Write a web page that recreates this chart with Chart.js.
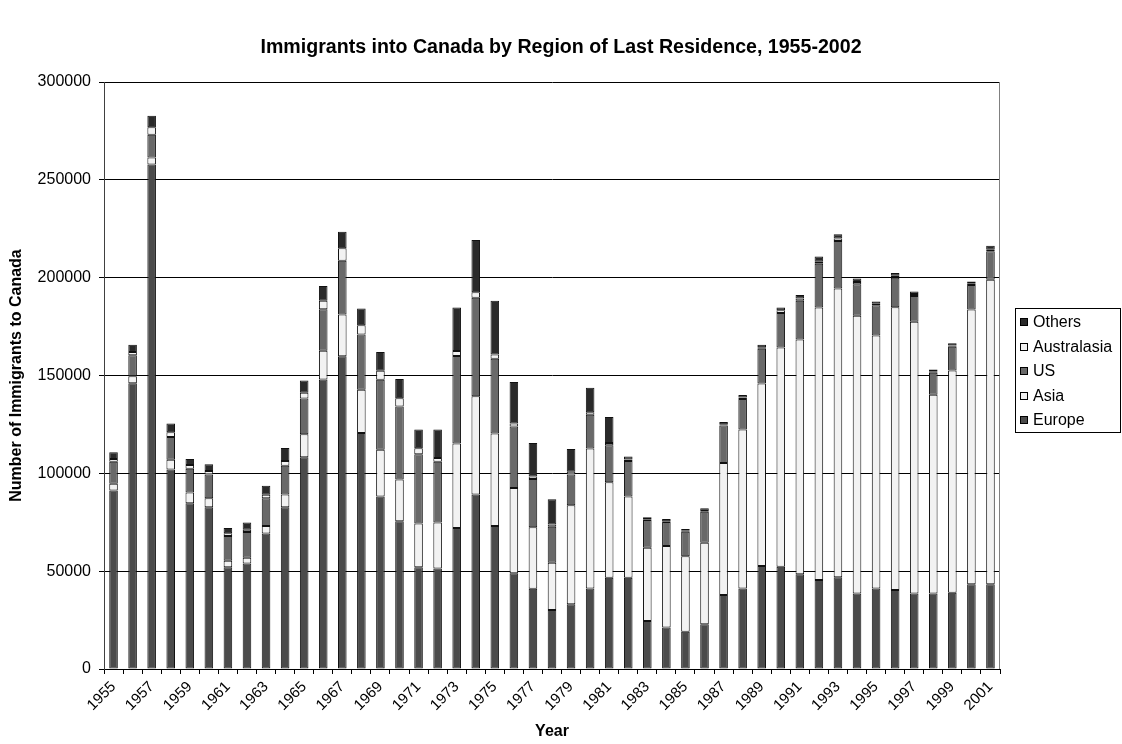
<!DOCTYPE html>
<html>
<head>
<meta charset="utf-8">
<script src="https://cdn.jsdelivr.net/npm/chart.js@4.4.1/dist/chart.umd.min.js"></script>
<style>
  html, body { margin: 0; padding: 0; background: #ffffff; }
  #wrap { width: 1122px; height: 744px; }
</style>
</head>
<body>
<div id="wrap"><canvas id="c" width="1122" height="744"></canvas></div>
<script>
// Immigrant arrivals by region of last residence, one stacked bar per year
const years = [];
for (let y = 1955; y <= 2001; y++) years.push(String(y));

const europe = [
  91200, 146100, 257800, 102000, 84700, 82700, 52000, 53900, 69200, 82700,
  108200, 148000, 159800, 120600, 88200, 75500, 52000, 51400, 72000, 89200,
  73100, 49000, 41000, 30200, 33100, 41200, 46700, 46700, 24500, 21200,
  19000, 22900, 37800, 41200, 52600, 52200, 48400, 45500, 46900, 38600,
  41200, 40400, 38600, 38600, 39000, 43300, 43300
];
const asia = [
  3500, 3500, 3600, 4900, 5500, 4600, 3300, 3000, 3900, 6500,
  11800, 14700, 21400, 22100, 23800, 21400, 22300, 23500, 43300, 50200,
  47300, 43500, 31500, 24100, 50600, 71500, 48800, 41500, 37500, 41700,
  38600, 41600, 67500, 81200, 93300, 112100, 120000, 139200, 147600, 142000,
  129200, 144500, 138900, 101600, 113500, 140400, 155700
];
const us = [
  11200, 10800, 11700, 11700, 12200, 12100, 12700, 13100, 14200, 14700,
  18200, 21200, 27400, 28300, 35800, 37200, 35500, 31000, 44700, 50400,
  38200, 31400, 24600, 18400, 15700, 17300, 18800, 18100, 14100, 12200,
  12600, 15900, 19200, 15600, 17800, 17700, 19800, 22400, 24300, 16100,
  15500, 15100, 13100, 11200, 12200, 12600, 14500
];
const australasia = [
  1400, 1600, 3800, 2400, 1900, 1800, 1400, 1200, 1700, 2400,
  3000, 4300, 6500, 4700, 4600, 4300, 3000, 1900, 2500, 2700,
  2200, 1600, 1300, 1200, 1400, 1200, 1200, 800, 400, 400,
  400, 400, 600, 800, 800, 1300, 1200, 1100, 1200, 1100,
  800, 1000, 1000, 800, 600, 800, 800
];
const others = [
  3500, 3700, 5800, 4500, 3000, 3500, 2600, 3700, 4700, 6600,
  6300, 7500, 8400, 8600, 9600, 9800, 9600, 14600, 22200, 26700,
  27400, 21200, 17100, 12800, 11700, 12500, 13300, 1500, 1000, 1200,
  1000, 1400, 1200, 1200, 1200, 1400, 1800, 2600, 2200, 1800,
  1100, 1400, 1300, 900, 1200, 900, 2000
];
const yTicks = [0, 50000, 100000, 150000, 200000, 250000, 300000];

const FONT = "'Liberation Sans', Arial, Helvetica, sans-serif";

const series = [
  { label: 'Europe', data: europe, color: '#4b4b4b' },
  { label: 'Asia', data: asia, color: '#f2f2f2' },
  { label: 'US', data: us, color: '#696969' },
  { label: 'Australasia', data: australasia, color: '#f2f2f2' },
  { label: 'Others', data: others, color: '#2a2a2a' }
];

// Framed legend to the right of the plot, listed top-down from the last series
const boxLegend = {
  id: 'boxLegend',
  afterDraw(chart) {
    const ctx = chart.ctx;
    const left = 1015, top = 308, right = 1121, bottom = 432;
    ctx.save();
    ctx.strokeStyle = '#000000';
    ctx.lineWidth = 1;
    ctx.strokeRect(left + 0.5, top + 0.5, right - left - 1, bottom - top);
    ctx.font = '16px ' + FONT;
    ctx.textBaseline = 'middle';
    ctx.textAlign = 'left';
    const ds = chart.data.datasets.slice().reverse();
    ds.forEach((d, i) => {
      const cy = 322 + i * 24.5;
      ctx.fillStyle = d.backgroundColor;
      ctx.fillRect(1020, Math.round(cy - 4), 8, 8);
      ctx.strokeStyle = '#000000';
      ctx.strokeRect(1020.5, Math.round(cy - 4) + 0.5, 7, 7);
      ctx.fillStyle = '#000000';
      ctx.fillText(d.label, 1033, cy + 1);
    });
    ctx.restore();
  }
};

// Right edge of the plotting area
const plotFrame = {
  id: 'plotFrame',
  afterDraw(chart) {
    const a = chart.chartArea;
    const ctx = chart.ctx;
    ctx.save();
    ctx.strokeStyle = '#808080';
    ctx.lineWidth = 1;
    ctx.beginPath();
    ctx.moveTo(Math.round(a.right) - 0.5, a.top);
    ctx.lineTo(Math.round(a.right) - 0.5, a.bottom);
    ctx.stroke();
    ctx.restore();
  }
};

new Chart(document.getElementById('c'), {
  type: 'bar',
  data: {
    labels: years,
    datasets: series.map(s => ({
      label: s.label,
      data: s.data,
      backgroundColor: s.color,
      borderColor: '#111111',
      borderWidth: 1,
      borderSkipped: false,
      barPercentage: 0.45,
      categoryPercentage: 1.0
    }))
  },
  options: {
    responsive: false,
    animation: false,
    devicePixelRatio: 1,
    layout: { padding: 0 },
    plugins: {
      legend: { display: false },
      tooltip: { enabled: false },
      title: {
        display: true,
        text: 'Immigrants into Canada by Region of Last Residence, 1955-2002',
        color: '#000000',
        font: { family: FONT, size: 19.6, weight: 'bold' },
        padding: { top: 36, bottom: 22.5 }
      }
    },
    scales: {
      x: {
        stacked: true,
        offset: true,
        afterFit(scale) { scale.height = 75; },
        grid: {
          offset: true,
          drawOnChartArea: false,
          drawTicks: true,
          tickLength: 5,
          color: '#000000'
        },
        border: { display: true, color: '#000000', width: 1 },
        ticks: {
          autoSkip: false,
          maxRotation: 45,
          minRotation: 45,
          padding: 4,
          color: '#000000',
          font: { family: FONT, size: 15 },
          callback(value, index) { return index % 2 === 0 ? years[index] : ''; }
        },
        title: {
          display: true,
          text: 'Year',
          color: '#000000',
          font: { family: FONT, size: 16, weight: 'bold' },
          padding: { top: 0, bottom: 3 }
        }
      },
      y: {
        stacked: true,
        min: 0,
        max: 300000,
        afterFit(scale) { scale.width = 104; },
        afterBuildTicks(scale) { scale.ticks = yTicks.map(v => ({ value: v })); },
        grid: {
          color: '#000000',
          lineWidth: 1,
          drawTicks: true,
          tickLength: 5
        },
        border: { display: true, color: '#404040', width: 1 },
        ticks: {
          padding: 8,
          color: '#000000',
          font: { family: FONT, size: 16 },
          callback(v) { return String(v); }
        },
        title: {
          display: true,
          text: 'Number of Immigrants to Canada',
          color: '#000000',
          font: { family: FONT, size: 16, weight: 'bold' },
          padding: { top: 7, bottom: 0 }
        }
      },
      // empty strip on the right that holds the legend
      legendSpace: {
        type: 'linear',
        position: 'right',
        display: true,
        afterFit(scale) { scale.width = 122; },
        grid: { display: false, drawOnChartArea: false, drawTicks: false },
        border: { display: false },
        ticks: { display: false }
      }
    }
  },
  plugins: [boxLegend, plotFrame]
});
</script>
</body>
</html>
